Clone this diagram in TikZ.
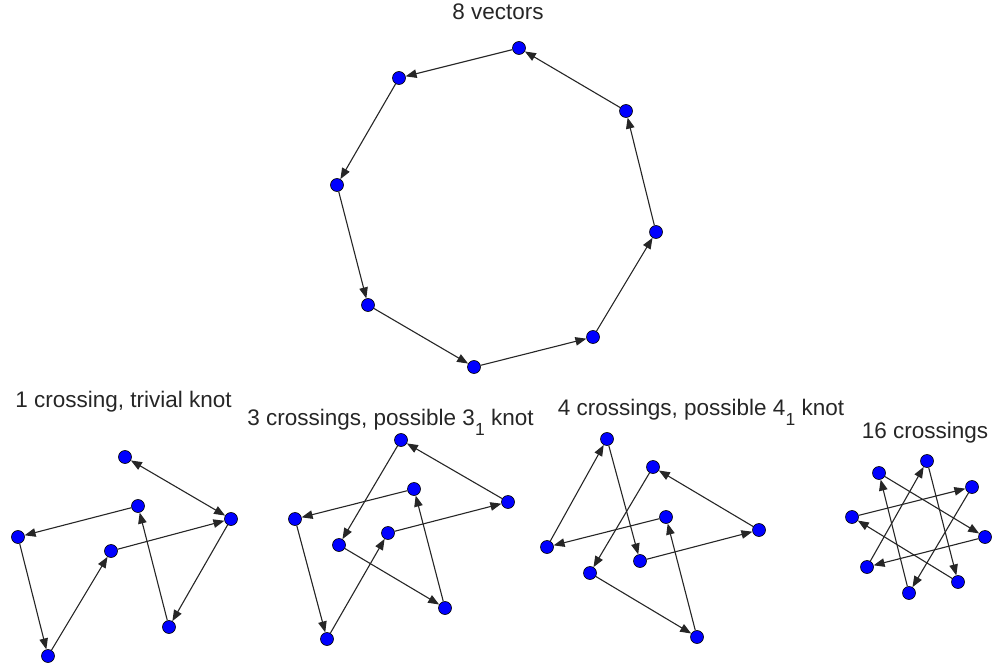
\documentclass[tikz,border=0pt]{standalone}
\usepackage{fontspec}
\setmainfont{Liberation Sans}
\usetikzlibrary{arrows.meta}
\definecolor{vblue}{RGB}{0,0,255}
\begin{document}
\begin{tikzpicture}[x=1pt,y=-1pt,
  pt/.style={circle,fill=vblue,draw=black,line width=0.6pt,minimum size=13pt,inner sep=0pt},
  vec/.style={draw=black!85,line width=1.1pt,-{Triangle[length=11pt,width=8.5pt]}},
  dvec/.style={draw=black!85,line width=1.1pt,{Triangle[length=11pt,width=8.5pt]}-{Triangle[length=11pt,width=8.5pt]}},
  lbl/.style={anchor=base,inner sep=0pt,text=black!85,font=\fontsize{22.5}{25}\selectfont}]
\useasboundingbox (0,0) rectangle (994,666);
\newcommand{\subone}{\raisebox{-10pt}{\fontsize{17.5}{17.5}\selectfont 1}}
% top octagon
\node[lbl] (t0) at (498,20) {8 vectors};
\node[pt] (A) at (519,48) {};
\node[pt] (B) at (399,78) {};
\node[pt] (C) at (337,185) {};
\node[pt] (D) at (368,305) {};
\node[pt] (E) at (474,367) {};
\node[pt] (F) at (593,337) {};
\node[pt] (G) at (656,232) {};
\node[pt] (H) at (626,111) {};
\draw[vec] (A) -- (B);
\draw[vec] (B) -- (C);
\draw[vec] (C) -- (D);
\draw[vec] (D) -- (E);
\draw[vec] (E) -- (F);
\draw[vec] (F) -- (G);
\draw[vec] (G) -- (H);
\draw[vec] (H) -- (A);
% panel 1
\node[lbl] (t1) at (123.5,407) {1 crossing, trivial knot};
\node[pt] (P1) at (125,457) {};
\node[pt] (P2) at (231,519) {};
\node[pt] (P3) at (169,627) {};
\node[pt] (P4) at (138,506) {};
\node[pt] (P5) at (18,537) {};
\node[pt] (P6) at (48,656) {};
\node[pt] (P7) at (111,551) {};
\draw[dvec] (P1) -- (P2);
\draw[vec] (P7) -- (P2);
\draw[vec] (P2) -- (P3);
\draw[vec] (P3) -- (P4);
\draw[vec] (P4) -- (P5);
\draw[vec] (P5) -- (P6);
\draw[vec] (P6) -- (P7);
% panel 2
\node[lbl] (t2) at (390.5,425) {3 crossings, possible 3\subone\ knot};
\node[pt] (Q1) at (401,440) {};
\node[pt] (Q2) at (508,502) {};
\node[pt] (Q3) at (414,489) {};
\node[pt] (Q4) at (295,519) {};
\node[pt] (Q5) at (339,545) {};
\node[pt] (Q6) at (388,533) {};
\node[pt] (Q7) at (445,608) {};
\node[pt] (Q8) at (327,639) {};
\draw[vec] (Q2) -- (Q1);
\draw[vec] (Q1) -- (Q5);
\draw[vec] (Q5) -- (Q7);
\draw[vec] (Q7) -- (Q3);
\draw[vec] (Q3) -- (Q4);
\draw[vec] (Q4) -- (Q8);
\draw[vec] (Q8) -- (Q6);
\draw[vec] (Q6) -- (Q2);
% panel 3
\node[lbl] (t3) at (701,415) {4 crossings, possible 4\subone\ knot};
\node[pt] (R1) at (607,439) {};
\node[pt] (R2) at (653,467) {};
\node[pt] (R3) at (759,530) {};
\node[pt] (R4) at (666,517) {};
\node[pt] (R5) at (547,547) {};
\node[pt] (R6) at (640,561) {};
\node[pt] (R7) at (590,573) {};
\node[pt] (R8) at (697,637) {};
\draw[vec] (R5) -- (R1);
\draw[vec] (R1) -- (R6);
\draw[vec] (R6) -- (R3);
\draw[vec] (R3) -- (R2);
\draw[vec] (R2) -- (R7);
\draw[vec] (R7) -- (R8);
\draw[vec] (R8) -- (R4);
\draw[vec] (R4) -- (R5);
% panel 4
\node[lbl] (t4) at (925,438) {16 crossings};
\node[pt] (S1) at (927,461) {};
\node[pt] (S2) at (879,473) {};
\node[pt] (S3) at (972,487) {};
\node[pt] (S4) at (852,517) {};
\node[pt] (S5) at (985,537) {};
\node[pt] (S6) at (867,567) {};
\node[pt] (S7) at (958,582) {};
\node[pt] (S8) at (909,593) {};
\draw[vec] (S6) -- (S1);
\draw[vec] (S1) -- (S7);
\draw[vec] (S7) -- (S4);
\draw[vec] (S4) -- (S3);
\draw[vec] (S3) -- (S8);
\draw[vec] (S8) -- (S2);
\draw[vec] (S2) -- (S5);
\draw[vec] (S5) -- (S6);
\end{tikzpicture}
\end{document}
